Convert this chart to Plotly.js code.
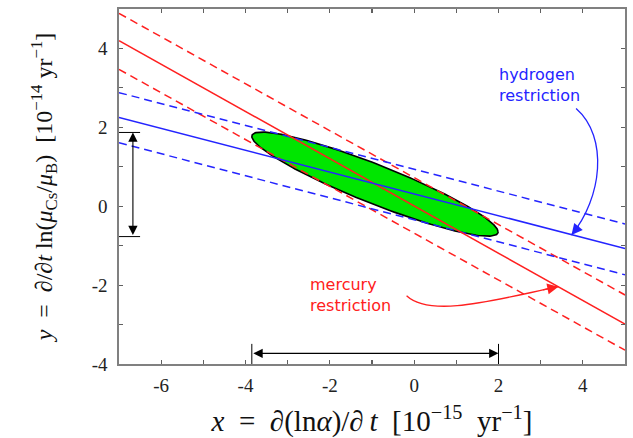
<!DOCTYPE html>
<html>
<head>
<meta charset="utf-8">
<script src="https://cdn.plot.ly/plotly-3.0.1.min.js"></script>
<style>html,body{margin:0;padding:0;background:#fff;}#chart{width:633px;height:438px;}</style>
</head>
<body>
<div id="chart"></div>
<script>
// ---- data ----
const lineX = [-7, 5];
const mercuryCentral = [4.20, -2.99];
const mercuryUpper   = [4.89, -2.25];
const mercuryLower   = [3.47, -3.65];
const hydrogenCentral = [2.25, -1.07];
const hydrogenUpper   = [2.88, -0.45];
const hydrogenLower   = [1.61, -1.74];

// combined confidence ellipse: centre, half extents (x, y), correlation
const ellipseCenter = [-0.93, 0.56];
const ellipseHalfExtent = [2.92, 1.32];
const ellipseCorrelation = [-0.917];

// marked intervals
const xInterval = [-3.85, 2.0];
const yInterval = [-0.77, 1.87];

const xTickVals = [-6, -4, -2, 0, 2, 4];
const xTickText = ['-6', '-4', '-2', '0', '2', '4'];
const yTickVals = [-4, -2, 0, 2, 4];
const yTickText = ['-4', '-2', '0', '2', '4'];

const hydrogenArrow = [[3.84, 2.48], [4.62, 1.75], [4.45, 0.2], [3.73, -0.73]];
const mercuryArrow  = [[-0.18, -2.27], [0.4, -2.85], [2.0, -2.35], [3.42, -2.04]];
const hydrogenLabelPos = [1.96, 3.07];
const mercuryLabelPos  = [-2.52, -2.26];

// ---- drawing ----
const RED = '#ff2020';
const BLUE = '#2424ff';
const DASH = '8px,5px';
const EM = '\u2003', EN = '\u2002', THIN = '\u2009';

function ellipseOutline(c, h, rho, n) {
  const xs = [], ys = [];
  const s = Math.sqrt(1 - rho * rho);
  for (let i = 0; i <= n; i++) {
    const t = 2 * Math.PI * i / n;
    xs.push(c[0] + h[0] * Math.cos(t));
    ys.push(c[1] + h[1] * (rho * Math.cos(t) + s * Math.sin(t)));
  }
  return {x: xs, y: ys};
}
const ell = ellipseOutline(ellipseCenter, ellipseHalfExtent, ellipseCorrelation[0], 240);

function lineTrace(y, color, dash) {
  return {x: lineX, y: y, mode: 'lines', type: 'scatter', hoverinfo: 'skip',
          line: {color: color, width: 1.5, dash: dash}, showlegend: false};
}

const traces = [
  {x: ell.x, y: ell.y, type: 'scatter', mode: 'lines', fill: 'toself',
   fillcolor: '#00e600', line: {color: '#000', width: 1.6}, showlegend: false, hoverinfo: 'skip'},
  lineTrace(mercuryUpper, RED, DASH),
  lineTrace(mercuryLower, RED, DASH),
  lineTrace(hydrogenUpper, BLUE, DASH),
  lineTrace(hydrogenLower, BLUE, DASH),
  lineTrace(mercuryCentral, RED, 'solid'),
  lineTrace(hydrogenCentral, BLUE, 'solid')
];

function bez(p) {
  return 'M' + p[0][0] + ',' + p[0][1] + ' C' + p[1][0] + ',' + p[1][1] + ' ' +
         p[2][0] + ',' + p[2][1] + ' ' + p[3][0] + ',' + p[3][1];
}
function headFrom(p, color) {
  const a = p[2], b = p[3];
  const f = 0.28;
  return {x: b[0], y: b[1], ax: b[0] - (b[0] - a[0]) * f, ay: b[1] - (b[1] - a[1]) * f,
          xref: 'x', yref: 'y', axref: 'x', ayref: 'y', text: '', showarrow: true,
          arrowhead: 2, arrowsize: 1.7, arrowwidth: 1.3, arrowcolor: color, standoff: 0};
}

const shapes = [
  {type: 'path', xref: 'x', yref: 'y', path: bez(hydrogenArrow), line: {color: BLUE, width: 1.3}},
  {type: 'path', xref: 'x', yref: 'y', path: bez(mercuryArrow), line: {color: RED, width: 1.3}},
  {type: 'line', xref: 'x', yref: 'y', x0: -7, x1: -6.5, y0: yInterval[1], y1: yInterval[1], line: {color: '#000', width: 1}},
  {type: 'line', xref: 'x', yref: 'y', x0: -7, x1: -6.5, y0: yInterval[0], y1: yInterval[0], line: {color: '#000', width: 1}},
  {type: 'line', xref: 'x', yref: 'y', x0: xInterval[0], x1: xInterval[0], y0: -4, y1: -3.49, line: {color: '#000', width: 1}},
  {type: 'line', xref: 'x', yref: 'y', x0: xInterval[1], x1: xInterval[1], y0: -4, y1: -3.49, line: {color: '#000', width: 1}}
];

const annotations = [
  {x: -6.67, y: yInterval[1], ax: -6.67, ay: yInterval[0], xref: 'x', yref: 'y', axref: 'x', ayref: 'y',
   text: '', showarrow: true, arrowside: 'end+start', arrowhead: 2, arrowsize: 1.7, arrowwidth: 1.1,
   arrowcolor: '#000', standoff: 0, startstandoff: 0},
  {x: xInterval[1], y: -3.73, ax: xInterval[0], ay: -3.73, xref: 'x', yref: 'y', axref: 'x', ayref: 'y',
   text: '', showarrow: true, arrowside: 'end+start', arrowhead: 2, arrowsize: 1.7, arrowwidth: 1.1,
   arrowcolor: '#000', standoff: 0, startstandoff: 0},
  headFrom(hydrogenArrow, BLUE),
  headFrom(mercuryArrow, RED),
  {x: hydrogenLabelPos[0], y: hydrogenLabelPos[1], xref: 'x', yref: 'y', xanchor: 'left', yanchor: 'middle',
   text: 'hydrogen<br>restriction', showarrow: false, align: 'left',
   font: {family: 'DejaVu Sans', size: 16, color: BLUE}},
  {x: mercuryLabelPos[0], y: mercuryLabelPos[1], xref: 'x', yref: 'y', xanchor: 'left', yanchor: 'middle',
   text: 'mercury<br>restriction', showarrow: false, align: 'left',
   font: {family: 'DejaVu Sans', size: 16, color: RED}}
];

const axisCommon = {
  showgrid: false, zeroline: false, showline: true, linecolor: '#808080', linewidth: 1.6,
  mirror: 'allticks', ticks: 'inside', ticklen: 4, tickwidth: 1.2, tickcolor: '#606060',
  tickmode: 'array',
  minor: {dtick: 1, ticks: 'inside', ticklen: 4, tickwidth: 1.2, tickcolor: '#606060'},
  tickfont: {family: 'Liberation Serif', size: 19, color: '#222'}
};

const layout = {
  width: 633, height: 438,
  margin: {l: 119, r: 8, t: 9, b: 74},
  paper_bgcolor: '#fff', plot_bgcolor: '#fff',
  showlegend: false,
  xaxis: Object.assign({}, axisCommon, {
    range: [-7, 5], tickvals: xTickVals, ticktext: xTickText, ticklabelstandoff: 4,
    title: {text: '<i>x</i>' + EN + '=' + EN + '∂(ln<i>α</i>)/∂' + THIN + '<i>t</i>' + EN + '[10<sup>−15</sup>' + EN + 'yr<sup>−1</sup>]',
            font: {family: 'Liberation Serif', size: 29, color: '#111'}, standoff: 17}
  }),
  yaxis: Object.assign({}, axisCommon, {
    range: [-4, 5], tickvals: yTickVals, ticktext: yTickText, ticklabelstandoff: 6,
    title: {text: '<i>y</i>' + EN + '=' + EN + '∂/∂<i>t</i> ln(<i>μ</i><sub>Cs</sub>/<i>μ</i><sub>B</sub>)' + EN + '[10<sup>−14</sup> yr<sup>−1</sup>]',
            font: {family: 'Liberation Serif', size: 24, color: '#111'}, standoff: 32}
  }),
  shapes: shapes,
  annotations: annotations
};

Plotly.newPlot('chart', traces, layout, {staticPlot: true, displayModeBar: false});
</script>
</body>
</html>
